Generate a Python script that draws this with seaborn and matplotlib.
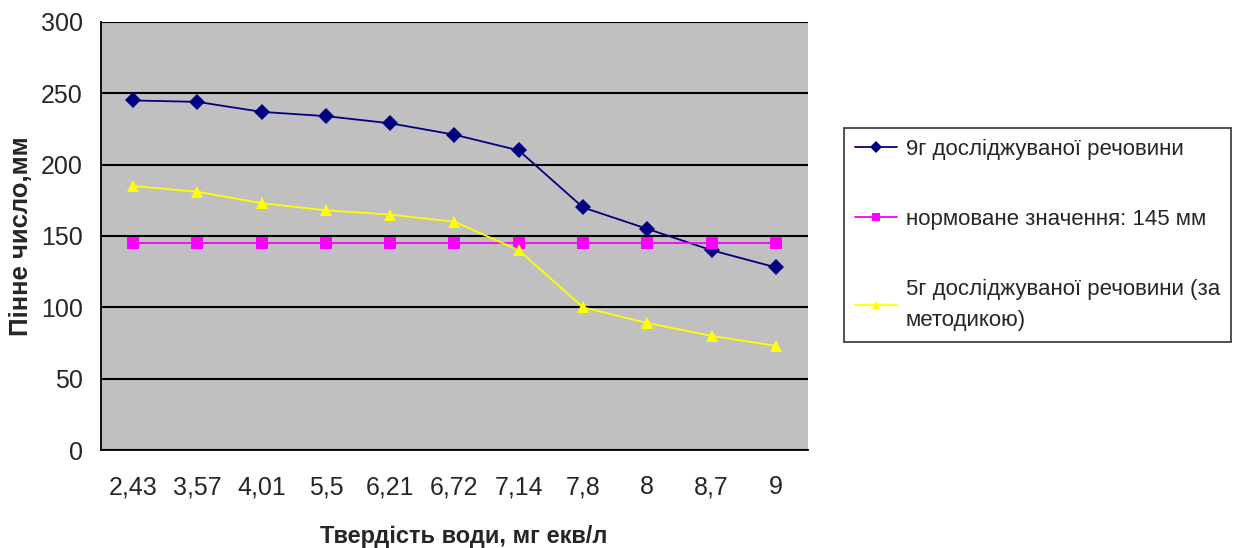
import matplotlib
matplotlib.use("Agg")
import matplotlib.pyplot as plt
import seaborn as sns
import pandas as pd
import numpy as np

categories = ["2,43", "3,57", "4,01", "5,5", "6,21", "6,72", "7,14", "7,8", "8", "8,7", "9"]
series_9g = [245, 244, 237, 234, 229, 221, 210, 170, 155, 140, 128]
series_norm = [145, 145, 145, 145, 145, 145, 145, 145, 145, 145, 145]
series_5g = [185, 181, 173, 168, 165, 160, 140, 100, 89, 80, 73]
labels = ["9г досліджуваної речовини", "нормоване значення: 145 мм",
          "5г досліджуваної речовини (за\nметодикою)"]

sns.set_theme(style="white")
plt.rcParams['font.family'] = ['Liberation Sans', 'DejaVu Sans']

fig = plt.figure(figsize=(12.44, 5.48), dpi=100)
ax = fig.add_axes([0.0812, 0.1788, 0.5683, 0.7811])
ax.set_facecolor("#C0C0C0")

idx = np.arange(len(categories))
df = pd.DataFrame({"x": np.tile(idx, 3),
                   "y": series_9g + series_norm + series_5g,
                   "s": np.repeat(labels, len(categories))})
palette = {labels[0]: "#000080", labels[1]: "#FF00FF", labels[2]: "#FFFF00"}
markers = {labels[0]: "D", labels[1]: "s", labels[2]: "^"}
sns.lineplot(data=df, x="x", y="y", hue="s", style="s", palette=palette,
             markers=markers, dashes=False, markersize=8, linewidth=1.3,
             markeredgewidth=0, ax=ax, legend=True)

ax.set_ylim(0, 300)
ax.set_yticks(range(0, 301, 50))
ax.set_xlim(-0.5, 10.5)
ax.set_xticks(np.arange(-0.5, 11, 1))
ax.set_xticklabels([])
ax.set_xticks(idx, minor=True)
ax.set_xticklabels(categories, minor=True)
ax.tick_params(axis="x", which="major", direction="out", length=6, width=1.2, color="black")
ax.tick_params(axis="x", which="minor", length=0, pad=18, labelsize=18)
ax.tick_params(axis="y", direction="out", length=6, width=1.2, color="black", labelsize=18, pad=7)
ax.yaxis.grid(True, color="black", linewidth=1.5)
ax.set_axisbelow(True)
for side in ["top", "right"]:
    ax.spines[side].set_visible(False)
for side in ["left", "bottom"]:
    ax.spines[side].set_color("black")
    ax.spines[side].set_linewidth(1.3)

ax.set_xlabel("Твердість води, мг екв/л", fontsize=17, fontweight="bold", labelpad=19)
ax.xaxis.label.set_x(0.513)
ax.set_ylabel("Пінне число,мм", fontsize=18.5, fontweight="bold", labelpad=5.5)

handles, lbls = ax.get_legend_handles_labels()
leg = ax.legend(handles, lbls, loc="center left", bbox_to_anchor=(1.035, 0.502),
                frameon=True, fontsize=16, fancybox=False, borderpad=0.5,
                labelspacing=2.2, handlelength=1.9, handletextpad=0.38)
leg.get_frame().set_edgecolor("black")
leg.get_frame().set_linewidth(1.2)
for t in leg.get_texts():
    t.set_linespacing(1.65)
for h in leg.legend_handles:
    h.set_markersize(6)

fig.savefig("out.png", dpi=100, facecolor="white")
